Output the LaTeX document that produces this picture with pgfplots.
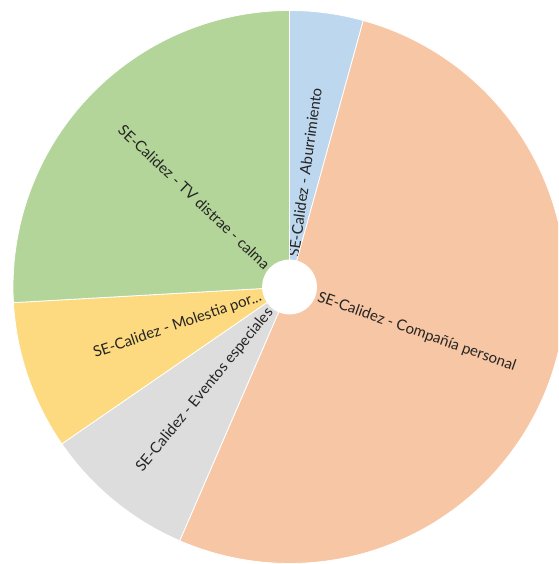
\documentclass[border=0pt]{standalone}
\usepackage{fontspec}
\setmainfont{Lato}
\usepackage{pgfplots}
\pgfplotsset{compat=1.18}
\definecolor{cBlue}{RGB}{189,215,238}
\definecolor{cOrange}{RGB}{247,198,164}
\definecolor{cGrey}{RGB}{221,221,221}
\definecolor{cYellow}{RGB}{253,218,128}
\definecolor{cGreen}{RGB}{179,213,153}
\definecolor{cText}{RGB}{37,36,35}
% share of each slice (percent), clockwise from 12 o'clock
\def\piedata{4.3/cBlue/{SE-Calidez - Aburrimiento},
52.2/cOrange/{SE-Calidez - Compañía personal},
8.9/cGrey/{SE-Calidez - Eventos especiales},
8.7/cYellow/{SE-Calidez - Molestia por...},
25.9/cGreen/{SE-Calidez - TV distrae - calma}}
\def\cx{289.5}
\def\cy{277}
\def\R{276.5}
\def\Rh{27.5}
\begin{document}
\begin{tikzpicture}
\begin{axis}[x=1pt,y=1pt,xmin=0,xmax=558,ymin=0,ymax=564,
  hide axis, clip=true]
\pgfplotsextra{
  \path (axis cs:0,0) rectangle (axis cs:558,564);
  \xdef\cum{0}
  \foreach \v/\c/\l in \piedata {
    \pgfmathsetmacro{\aS}{90-3.6*\cum}
    \pgfmathsetmacro{\aE}{90-3.6*(\cum+\v)}
    \pgfmathsetmacro{\aM}{90-3.6*(\cum+\v/2)}
    \fill[\c, draw=white, line width=0.8pt]
      (axis cs:\cx,\cy) -- (axis cs:{\cx+\R*cos(\aS)},{\cy+\R*sin(\aS)})
      arc[start angle=\aS, end angle=\aE, radius=\R pt] -- cycle;
    \pgfmathsetmacro{\lx}{\cx+30*cos(\aM)}
    \pgfmathsetmacro{\ly}{\cy+30*sin(\aM)}
    \pgfmathsetmacro{\side}{cos(\aM)>=0 ? 1 : 0}
    \ifdim\side pt>0.5pt
      \node[anchor=west, rotate=\aM, inner sep=0pt, text=cText, font=\fontsize{15}{17}\selectfont] at (axis cs:\lx,\ly) {\l};
    \else
      \pgfmathsetmacro{\rr}{\aM+180}
      \node[anchor=east, rotate=\rr, inner sep=0pt, text=cText, font=\fontsize{15}{17}\selectfont] at (axis cs:\lx,\ly) {\l};
    \fi
    \pgfmathsetmacro{\nc}{\cum+\v}
    \xdef\cum{\nc}
  }
  \fill[white] (axis cs:\cx,\cy) circle[radius=\Rh pt];
}
\end{axis}
\end{tikzpicture}
\end{document}
